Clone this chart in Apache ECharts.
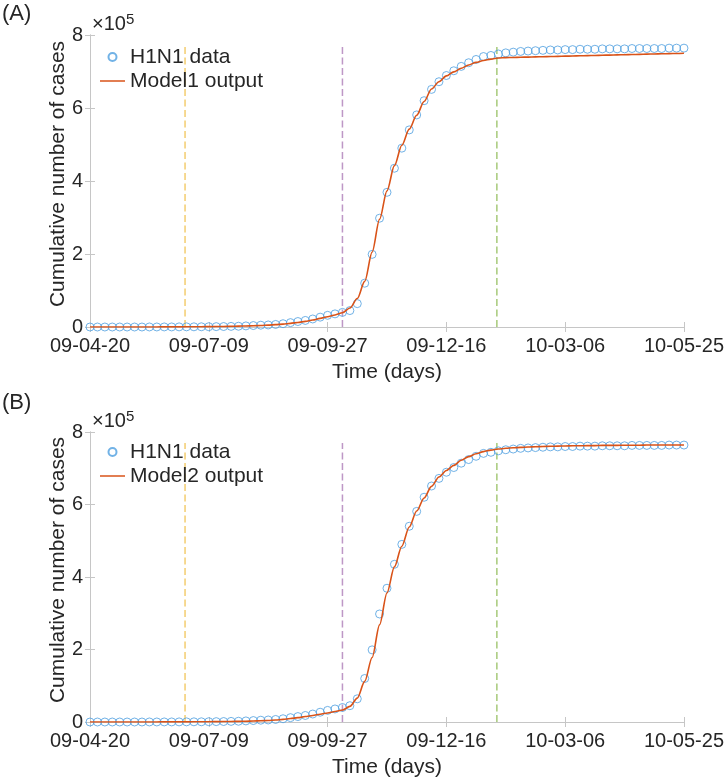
<!DOCTYPE html>
<html>
<head>
<meta charset="utf-8">
<script src="https://cdn.jsdelivr.net/npm/echarts@6/dist/echarts.min.js"></script>
<style>html,body{margin:0;padding:0;background:#fff;}#c{width:727px;height:784px;}</style>
</head>
<body>
<div id="c"></div>
<script>
// x positions (days since 2009-04-20), sampled every 5 days
var days = [0,5,10,15,20,25,30,35,40,45,50,55,60,65,70,75,80,85,90,95,100,105,110,115,120,125,130,135,140,145,150,155,160,165,170,175,180,185,190,195,200,205,210,215,220,225,230,235,240,245,250,255,260,265,270,275,280,285,290,295,300,305,310,315,320,325,330,335,340,345,350,355,360,365,370,375,380,385,390,395,400];
// cumulative cases, in units of 1e5
var h1n1Data = [0,0,0,0,0,0,0,0,0.001,0.001,0.002,0.002,0.003,0.004,0.005,0.006,0.008,0.010,0.013,0.017,0.021,0.030,0.040,0.050,0.056,0.07,0.09,0.12,0.15,0.18,0.22,0.27,0.32,0.36,0.40,0.45,0.64,1.20,1.99,2.98,3.69,4.35,4.90,5.40,5.81,6.20,6.51,6.72,6.89,7.02,7.14,7.24,7.33,7.41,7.44,7.48,7.51,7.53,7.55,7.56,7.57,7.58,7.59,7.59,7.60,7.60,7.61,7.61,7.61,7.62,7.62,7.62,7.62,7.63,7.63,7.63,7.63,7.63,7.64,7.64,7.64];
var model1Output = [0,0,0,0,0,0,0.001,0.001,0.002,0.002,0.003,0.003,0.004,0.005,0.006,0.008,0.010,0.012,0.015,0.019,0.023,0.028,0.034,0.042,0.052,0.064,0.08,0.10,0.125,0.155,0.19,0.235,0.28,0.33,0.39,0.52,0.78,1.25,2.05,2.95,3.73,4.42,4.98,5.42,5.80,6.18,6.52,6.72,6.88,6.99,7.09,7.18,7.25,7.30,7.34,7.37,7.38,7.385,7.39,7.395,7.40,7.405,7.41,7.415,7.42,7.425,7.43,7.435,7.44,7.445,7.45,7.455,7.46,7.465,7.47,7.475,7.48,7.485,7.49,7.495,7.50];
var model2Output = [0,0,0,0,0,0,0.001,0.001,0.002,0.002,0.003,0.003,0.003,0.004,0.005,0.006,0.008,0.010,0.012,0.015,0.018,0.022,0.027,0.033,0.042,0.055,0.072,0.095,0.12,0.15,0.18,0.215,0.25,0.29,0.33,0.43,0.66,1.12,1.78,2.68,3.56,4.28,4.85,5.38,5.82,6.18,6.50,6.76,6.94,7.08,7.22,7.32,7.40,7.46,7.50,7.53,7.55,7.565,7.575,7.585,7.595,7.60,7.605,7.61,7.615,7.62,7.62,7.625,7.625,7.63,7.63,7.63,7.635,7.635,7.635,7.64,7.64,7.64,7.64,7.64,7.64];
// dashed phase lines
var phaseDays = [64, 170, 274];
var phaseColors = ['rgba(237,177,32,0.65)', 'rgba(126,47,142,0.5)', 'rgba(119,172,48,0.65)'];
var phaseTop = 7.7;
// tick labels
var xTickLabels = ['09-04-20','09-07-09','09-09-27','09-12-16','10-03-06','10-05-25'];
var yTickLabels = ['0','2','4','6','8'];

var FONT = 'Liberation Sans, Arial, Helvetica, sans-serif';
var TXT = '#262626';
var AX = '#c6c6c6';

function pairs(xs, ys){ return xs.map(function(x,i){ return [x, ys[i]]; }); }

var grids = [
  {left: 90, top: 35, width: 595, height: 292},
  {left: 90, top: 432, width: 595, height: 290}
];
var xAxes = [], yAxes = [], series = [];
var modelNames = ['Model1 output', 'Model2 output'];
var models = [model1Output, model2Output];
grids.forEach(function(g, gi){
  xAxes.push({
    gridIndex: gi, type: 'value', min: 0, max: 400, interval: 80, position: 'bottom',
    name: 'Time (days)', nameLocation: 'middle', nameGap: 35,
    nameTextStyle: {fontFamily: FONT, fontSize: 21, color: TXT},
    axisLine: {show: true, lineStyle: {color: AX, width: 1}},
    axisTick: {show: true, inside: true, length: 5, lineStyle: {color: AX}},
    axisLabel: {fontFamily: FONT, fontSize: 20, color: TXT, margin: 9,
      formatter: function(v){ return xTickLabels[Math.round(v/80)]; }},
    splitLine: {show: false}
  });
  xAxes.push({
    gridIndex: gi, type: 'value', min: 0, max: 400, interval: 80, position: 'top',
    axisLine: {show: true, lineStyle: {color: AX, width: 1}},
    axisTick: {show: true, inside: true, length: 5, lineStyle: {color: AX}},
    axisLabel: {show: false}, splitLine: {show: false}
  });
  yAxes.push({
    gridIndex: gi, type: 'value', min: 0, max: 8, interval: 2, position: 'left',
    name: 'Cumulative number of cases', nameLocation: 'middle', nameGap: 21, nameMoveOverlap: false,
    nameTextStyle: {fontFamily: FONT, fontSize: 21, color: TXT, padding: [0, 0, 0, 14]},
    axisLine: {show: true, lineStyle: {color: AX, width: 1}},
    axisTick: {show: true, inside: true, length: 5, lineStyle: {color: AX}},
    axisLabel: {fontFamily: FONT, fontSize: 20, color: TXT, margin: 7,
      formatter: function(v){ return yTickLabels[Math.round(v/2)]; }},
    splitLine: {show: false}
  });
  yAxes.push({
    gridIndex: gi, type: 'value', min: 0, max: 8, interval: 2, position: 'right',
    axisLine: {show: true, lineStyle: {color: AX, width: 1}},
    axisTick: {show: true, inside: true, length: 5, lineStyle: {color: AX}},
    axisLabel: {show: false}, splitLine: {show: false}
  });
  phaseDays.forEach(function(d, k){
    series.push({
      type: 'line', xAxisIndex: gi*2, yAxisIndex: gi*2, silent: true,
      data: [[d, 0], [d, phaseTop]], symbol: 'none',
      lineStyle: {color: phaseColors[k], width: 1.5, type: [7, 3.5]}, z: 1
    });
  });
  series.push({
    name: 'H1N1 data', type: 'scatter', xAxisIndex: gi*2, yAxisIndex: gi*2,
    data: pairs(days, h1n1Data), symbol: 'circle', symbolSize: 8,
    itemStyle: {color: 'rgba(0,0,0,0)', borderColor: '#4d9fe0', borderWidth: 1}, z: 3
  });
  series.push({
    name: modelNames[gi], type: 'line', xAxisIndex: gi*2, yAxisIndex: gi*2,
    data: pairs(days, models[gi]), symbol: 'none', smooth: 0.3, smoothMonotone: 'x',
    lineStyle: {color: '#D95319', width: 1.6}, itemStyle: {color: '#D95319'}, z: 4
  });
});

var LINE_ICON = 'path://M0,0H250V15H0Z';
var legendCommon = {
  orient: 'vertical', left: 100, padding: 0, itemWidth: 25, itemHeight: 8, itemGap: 0,
  textStyle: {fontFamily: FONT, fontSize: 21, color: TXT, lineHeight: 24},
  backgroundColor: 'transparent', selectedMode: false
};
var legends = [
  Object.assign({}, legendCommon, {top: 45, data: [{name: 'H1N1 data', icon: 'circle'}, {name: 'Model1 output', icon: LINE_ICON}]}),
  Object.assign({}, legendCommon, {top: 440, data: [{name: 'H1N1 data', icon: 'circle'}, {name: 'Model2 output', icon: LINE_ICON}]})
];

function expLabel(top){
  return {
    type: 'text', left: 92, top: top,
    style: {text: '{a|\u00d710}{b|5}', rich: {
      a: {fontFamily: FONT, fontSize: 20, fill: TXT, verticalAlign: 'bottom', lineHeight: 22},
      b: {fontFamily: FONT, fontSize: 15, fill: TXT, verticalAlign: 'top', lineHeight: 22}
    }}
  };
}

var chart = echarts.init(document.getElementById('c'), null, {renderer: 'canvas'});
chart.setOption({
  animation: false,
  backgroundColor: '#fff',
  grid: grids,
  xAxis: xAxes,
  yAxis: yAxes,
  legend: legends,
  series: series,
  graphic: [
    {type: 'text', left: 2, top: 3, style: {text: '(A)', fontFamily: FONT, fontSize: 22, fill: TXT}},
    {type: 'text', left: 2, top: 392, style: {text: '(B)', fontFamily: FONT, fontSize: 22, fill: TXT}},
    expLabel(12),
    expLabel(409)
  ]
});
</script>
</body>
</html>
